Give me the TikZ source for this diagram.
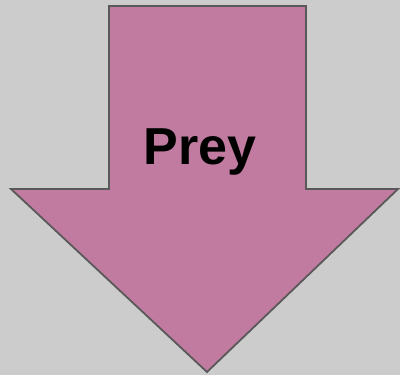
\documentclass[tikz,border=0pt]{standalone}
\usepackage{fontspec}
\setmainfont{Liberation Sans}
\definecolor{bg}{HTML}{CCCCCC}
\definecolor{arrowfill}{HTML}{C27BA0}
\definecolor{edge}{HTML}{595959}
\begin{document}
\begin{tikzpicture}[x=1pt,y=-1pt,
  arrowshape/.style={fill=arrowfill,draw=edge,line width=1.8pt,line join=miter},
  label/.style={font=\fontsize{52}{60}\selectfont\bfseries,text=black,inner sep=0pt}]
\fill[bg] (0,0) rectangle (400,375);
\useasboundingbox (0,0) rectangle (400,375);
\draw[arrowshape] (109,6) -- (306,6) -- (306,189) -- (398,189) -- (207,372) -- (11,189) -- (109,189) -- cycle;
\node[label,anchor=base] (prey) at (200,164) {Prey};
\end{tikzpicture}
\end{document}
